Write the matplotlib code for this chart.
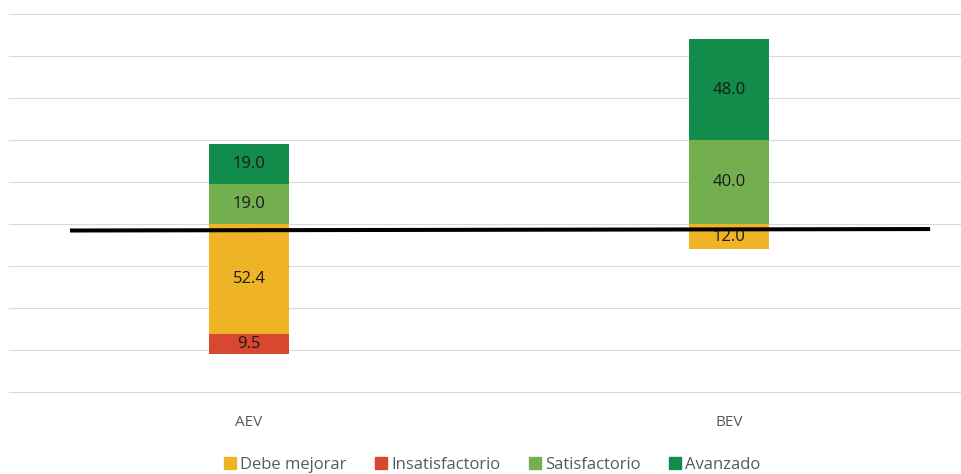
import numpy as np
import matplotlib
matplotlib.use('Agg')
import matplotlib.pyplot as plt
from matplotlib.patches import Patch

plt.rcParams['font.family'] = ['Open Sans', 'DejaVu Sans']

grupos = ['AEV', 'BEV']
debe_mejorar = [52.4, 12.0]
insatisfactorio = [9.5, 0.0]
satisfactorio = [19.0, 40.0]
avanzado = [19.0, 48.0]

colores = {
    'Debe mejorar': '#EFB425',
    'Insatisfactorio': '#D8472F',
    'Satisfactorio': '#74AF4F',
    'Avanzado': '#118C4A',
}

fig = plt.figure(figsize=(9.61, 4.74), dpi=100)
ax = fig.add_axes([9/961, 1 - 392/474, 952/961, 378/474])

x = np.arange(len(grupos))
ancho = 0.167

def etiquetas(barras, valores):
    for b, v in zip(barras, valores):
        if v == 0:
            continue
        ax.text(b.get_x() + b.get_width()/2, b.get_y() + b.get_height()/2,
                '{:.1f}'.format(v), ha='center', va='center',
                fontsize=12, color='#1a1a1a')

# negativos hacia abajo desde cero
neg1 = -np.array(debe_mejorar)
b1 = ax.bar(x, neg1, ancho, color=colores['Debe mejorar'])
b2 = ax.bar(x, -np.array(insatisfactorio), ancho, bottom=neg1,
            color=colores['Insatisfactorio'])
b3 = ax.bar(x, satisfactorio, ancho, color=colores['Satisfactorio'])
b4 = ax.bar(x, avanzado, ancho, bottom=satisfactorio,
            color=colores['Avanzado'])

etiquetas(b1, debe_mejorar)
etiquetas(b2, insatisfactorio)
etiquetas(b3, satisfactorio)
etiquetas(b4, avanzado)

ax.set_xlim(-0.5, 1.4833)
ax.set_ylim(-80, 100)
ax.set_yticks(np.arange(-80, 101, 20))
ax.yaxis.grid(True, color='#D9D9D9', linewidth=0.8)
for g in ax.get_ygridlines():
    g.set_clip_on(False)
ax.set_axisbelow(True)
ax.tick_params(left=False, bottom=False, labelleft=False)
for s in ax.spines.values():
    s.set_visible(False)

ax.set_xticks(x)
ax.set_xticklabels(grupos, fontsize=11, color='#595959')
ax.tick_params(axis='x', pad=13)

# linea base
ax.plot([-0.373, 1.419], [-3.1, -2.4], color='black', linewidth=2.9,
        solid_capstyle='butt', zorder=5)

handles = [Patch(color=c, label=k) for k, c in colores.items()]
fig.legend(handles=handles, loc='center', bbox_to_anchor=(492/961, 1 - 465/474),
           ncol=4, frameon=False, fontsize=12, labelcolor='#595959',
           handlelength=0.72, handleheight=0.72, handletextpad=0.25,
           columnspacing=1.7, borderpad=0)

fig.savefig('out.png', dpi=100)
